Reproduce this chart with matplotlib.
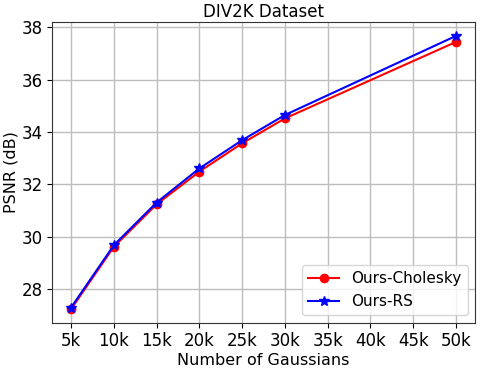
import matplotlib
matplotlib.use("Agg")
import matplotlib.pyplot as plt

x_vals = [5, 10, 15, 20, 25, 30, 50]
cholesky = [27.24, 29.62, 31.24, 32.49, 33.57, 34.52, 37.44]
rs = [27.30, 29.68, 31.31, 32.61, 33.69, 34.65, 37.67]
xticks = [5, 10, 15, 20, 25, 30, 35, 40, 45, 50]
xticklabels = ["5k", "10k", "15k", "20k", "25k", "30k", "35k", "40k", "45k", "50k"]

fig, ax = plt.subplots(figsize=(4.8, 3.71), dpi=100)
ax.plot(x_vals, cholesky, color="red", marker="o", markersize=6, linewidth=1.5, label="Ours-Cholesky")
ax.plot(x_vals, rs, color="blue", marker="*", markersize=7, linewidth=1.5, label="Ours-RS")
ax.set_xticks(xticks)
ax.set_xticklabels(xticklabels)
ax.set_yticks([28, 30, 32, 34, 36, 38])
ax.tick_params(labelsize=12, pad=3)
ax.grid(True, color="#bdbdbd", linewidth=1)
for s in ax.spines.values():
    s.set_color("#333333")
ax.set_xlabel("Number of Gaussians", fontsize=11.5, labelpad=2)
ax.set_ylabel("PSNR (dB)", fontsize=11.5, labelpad=2)
ax.set_title("DIV2K Dataset", fontsize=12, pad=4)
ax.legend(loc="lower right", fontsize=11)
fig.subplots_adjust(left=0.108, right=0.99, top=0.94, bottom=0.13)
fig.savefig("out.png", dpi=100)
